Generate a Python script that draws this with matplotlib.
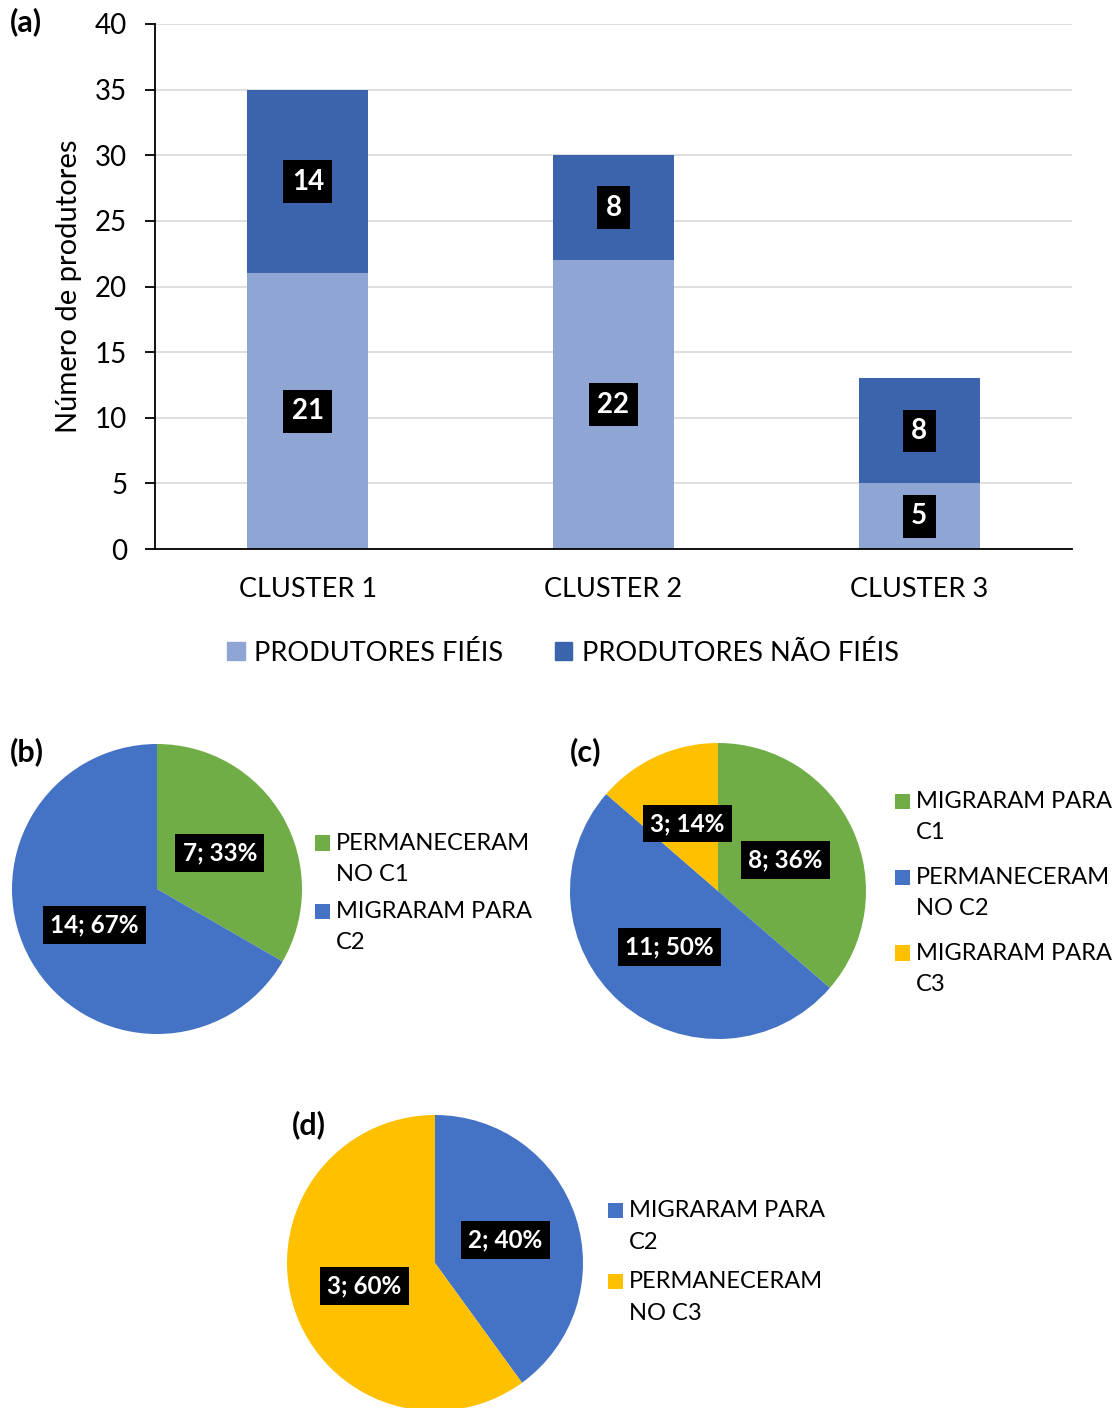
import matplotlib
matplotlib.use("Agg")
import matplotlib.pyplot as plt
from matplotlib.patches import Patch, Rectangle
from matplotlib.legend_handler import HandlerBase

plt.rcParams['font.family'] = ['Lato', 'DejaVu Sans']

# ---- data ----
clusters = ["CLUSTER 1", "CLUSTER 2", "CLUSTER 3"]
fieis = [21, 22, 5]
nao_fieis = [14, 8, 8]
bar_series = ["PRODUTORES FIÉIS", "PRODUTORES NÃO FIÉIS"]

pie_b_labels = ["PERMANECERAM\nNO C1", "MIGRARAM PARA\nC2"]
pie_b_values = [7, 14]
pie_c_labels = ["MIGRARAM PARA\nC1", "PERMANECERAM\nNO C2", "MIGRARAM PARA\nC3"]
pie_c_values = [8, 11, 3]
pie_d_labels = ["MIGRARAM PARA\nC2", "PERMANECERAM\nNO C3"]
pie_d_values = [2, 3]

# ---- style ----
c_light = "#8FA5D4"
c_dark = "#3C64AD"
c_green = "#70AD47"
c_blue = "#4472C4"
c_yellow = "#FFC000"

W, H = 1115, 1408
fig = plt.figure(figsize=(W / 100, H / 100), dpi=100)


def rect(x0, y0, x1, y1):
    return [x0 / W, 1 - y1 / H, (x1 - x0) / W, (y1 - y0) / H]


class TopSquare(HandlerBase):
    """Square handle aligned with the first line of a two-line label."""
    def __init__(self, shift_pt, size_frac=0.65):
        super().__init__()
        self.shift = shift_pt
        self.size_frac = size_frac

    def create_artists(self, legend, orig_handle, xdescent, ydescent,
                       width, height, fontsize, trans):
        s = self.size_frac * fontsize
        y = -ydescent + (height - s) / 2 + self.shift
        r = Rectangle((-xdescent, y), s, s,
                      facecolor=orig_handle.get_facecolor(),
                      edgecolor="none", transform=trans)
        return [r]


# ---- (a) bar chart ----
ax = fig.add_axes(rect(155, 24, 1072, 549))
x = list(range(len(clusters)))
b1 = ax.bar(x, fieis, width=0.395, color=c_light, zorder=2)
b2 = ax.bar(x, nao_fieis, bottom=fieis, width=0.395, color=c_dark, zorder=2)
lbl_box = dict(boxstyle="square,pad=0.3", fc="black", ec="none")
for bars in (b1, b2):
    ax.bar_label(bars, label_type="center", color="white", fontsize=20,
                 fontweight="bold", bbox=lbl_box)
ax.set_xlim(-0.5, 2.5)
ax.set_ylim(0, 40)
ax.set_yticks(range(0, 41, 5))
ax.yaxis.grid(True, color="#D9D9D9", linewidth=1.2, zorder=0)
ax.set_axisbelow(True)
ax.set_xticks(x)
ax.set_xticklabels(clusters, fontsize=19.5)
ax.tick_params(axis="x", length=0, pad=20)
ax.tick_params(axis="y", labelsize=20, length=7, width=1.3, pad=13)
for s in ("top", "right"):
    ax.spines[s].set_visible(False)
for s in ("left", "bottom"):
    ax.spines[s].set_linewidth(1.3)
ax.set_ylabel("Número de produtores", fontsize=21)
ax.yaxis.set_label_coords(-0.08, 0.5)

fig.legend([Patch(color=c_light), Patch(color=c_dark)], bar_series,
           loc="center", bbox_to_anchor=(563 / W, 1 - 653 / H), ncol=2,
           frameon=False, fontsize=19.5, handlelength=0.65, handleheight=0.65,
           handletextpad=0.35, columnspacing=1.9)

fig.text(10 / W, 1 - 22 / H, "(a)", fontsize=22, fontweight="bold", va="center")


# ---- pies ----
def make_pie(cx, cy, r, values, labels, colors, tag, tagxy, legxy, labelspacing):
    pax = fig.add_axes(rect(cx - r, cy - r, cx + r, cy + r))
    total = sum(values)
    wedges, _, autotexts = pax.pie(
        values, colors=colors, startangle=90, counterclock=False,
        autopct=lambda p: f"{round(p * total / 100):d}; {p:.0f}%",
        pctdistance=0.5, wedgeprops=dict(linewidth=0),
        textprops=dict(color="white", fontsize=17.5, fontweight="bold"))
    for t in autotexts:
        t.set_bbox(dict(boxstyle="square,pad=0.3", fc="black", ec="none"))
    pax.set_xlim(-1, 1)
    pax.set_ylim(-1, 1)
    pax.set_aspect("equal")
    handler = TopSquare(shift_pt=11.5)
    leg = fig.legend(wedges, labels, loc="center left",
                     bbox_to_anchor=(legxy[0] / W, 1 - legxy[1] / H),
                     frameon=False, fontsize=17, handlelength=0.65,
                     handleheight=0.65, handletextpad=0.25,
                     labelspacing=labelspacing, borderpad=0, borderaxespad=0,
                     handler_map={w: handler for w in wedges})
    for t in leg.get_texts():
        t.set_linespacing(1.6)
    fig.text(tagxy[0] / W, 1 - tagxy[1] / H, tag, fontsize=22,
             fontweight="bold", va="center")


make_pie(157, 889, 145, pie_b_values, pie_b_labels, [c_green, c_blue],
         "(b)", (10, 752), (315, 893), 0.7)
make_pie(718, 891, 148, pie_c_values, pie_c_labels, [c_green, c_blue, c_yellow],
         "(c)", (570, 752), (895, 893), 1.0)
make_pie(435, 1263, 148, pie_d_values, pie_d_labels, [c_blue, c_yellow],
         "(d)", (292, 1125), (608, 1262), 0.8)

fig.savefig("out.png", dpi=100, facecolor="white")
